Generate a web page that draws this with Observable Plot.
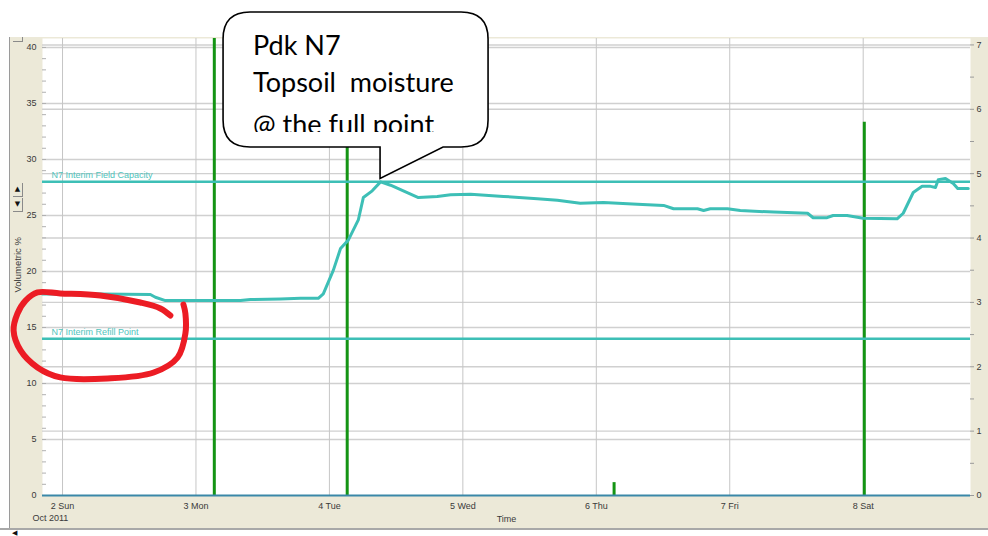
<!DOCTYPE html>
<html><head><meta charset="utf-8">
<script src="https://cdn.jsdelivr.net/npm/d3@7"></script>
<script src="https://cdn.jsdelivr.net/npm/@observablehq/plot@0.6"></script>
<style>
html,body{margin:0;padding:0;background:#fff;}
#wrap{position:relative;width:988px;height:536px;overflow:hidden;background:#fff;}
#panel{position:absolute;left:10px;top:37px;width:978px;height:491px;background:#ECE9D8;}
#lborder{position:absolute;left:9px;top:37px;width:1px;height:492px;background:#9a9a9a;}
#bborder{position:absolute;left:0;top:528px;width:988px;height:2px;background:#a8a8a8;}
#chart{position:absolute;left:0;top:0;}
.btn{position:absolute;left:13px;width:9px;height:13px;border-right:1px solid #8a8a8a;border-bottom:1px solid #8a8a8a;font:7px "DejaVu Sans",sans-serif;line-height:13px;text-align:center;color:#111;}
#topbtn{position:absolute;left:13px;top:37px;width:9px;height:4px;border-right:1px solid #8a8a8a;border-bottom:1px solid #8a8a8a;}
#scroll{position:absolute;left:12px;top:529px;font:7px "DejaVu Sans",sans-serif;color:#111;}
</style></head>
<body>
<div id="wrap">
  <div id="panel"></div>
  <div id="lborder"></div>
  <div id="bborder"></div>
  <div id="topbtn"></div>
  <div class="btn" style="top:183px">▲</div>
  <div class="btn" style="top:198px">▼</div>
  <div id="scroll">◀</div>
  <div id="chart"></div>
</div>
<script>
// ---------- data ----------
const dayDates = ["2011-10-02","2011-10-03","2011-10-04","2011-10-05","2011-10-06","2011-10-07","2011-10-08"];
const dayLabels = ["2 Sun","3 Mon","4 Tue","5 Wed","6 Thu","7 Fri","8 Sat"];
const monthLabel = "Oct 2011";
const xLabel = "Time";
const yLabel = "Volumetric %";
const leftTicks = [0,5,10,15,20,25,30,35,40];
const rightTicks = [0,1,2,3,4,5,6,7];
const yMax = 40.8;          // left axis top of frame
const rightMax = 7.1;       // right axis top of frame
const xStartHours = -3.6;   // hours relative to 2 Oct 00:00
const xEndHours = 163.3;
const yLabelAt = 20.6;      // left-axis value where the axis title is centred

// soil moisture (volumetric %), hours since 2 Oct 2011 00:00
const moistHours = [-3.6,6.8,15.8,16.7,18.5,24.8,32.0,33.8,39.2,42.8,46.0,46.9,48.7,50.0,51.4,53.2,54.1,55.7,57.2,59.0,61.3,64.0,67.4,69.8,73.4,79.3,85.4,89.0,93.1,97.3,103.4,108.1,109.9,114.2,115.3,116.5,119.6,121.9,127.9,134.0,135.0,137.5,138.6,141.1,144.0,150.1,151.2,153.0,154.6,156.1,157.0,157.5,158.8,160.2,161.0,162.9];
const moisture   = [18.0,18.0,17.95,17.7,17.4,17.4,17.4,17.5,17.55,17.6,17.6,18.0,20.1,22.05,22.8,24.6,26.6,27.2,28.0,27.7,27.2,26.6,26.7,26.85,26.9,26.7,26.5,26.35,26.1,26.15,26.0,25.9,25.6,25.6,25.45,25.6,25.6,25.45,25.3,25.2,24.8,24.8,25.0,25.0,24.75,24.7,25.2,27.05,27.6,27.6,27.5,28.2,28.3,27.85,27.4,27.4];

// rainfall / irrigation events (right axis)
const rainHours = [27.3,51.2,99.2,144.2];
const rainMm    = [8,8,0.2,5.8];

const fieldCapacity = 28;
const refillPoint = 14;
const fcLabel = "N7 Interim Field Capacity";
const rpLabel = "N7 Interim Refill Point";

// hand-drawn red ring (data coordinates)
const ringHours  = [19.4,17.6,14.0,6.8,-0.4,-4.5,-6.65,-8.1,-8.8,-7.55,-4.5,-0.4,8.1,16.4,20.7,22.1,22.1,21.75];
const ringValues = [16.06,16.7,17.23,17.85,18.04,18.13,17.4,16.25,14.73,12.95,11.43,10.54,10.45,10.98,12.32,14.46,16.25,17.05];

const calloutLines = ["Pdk N7","Topsoil  moisture","@ the full point"];
const calloutHours = 57.2;

// ---------- helpers ----------
const t0 = Date.UTC(2011,9,2);
const toDate = h => new Date(t0 + h*3600e3);
const ratio = yMax / rightMax;
const labelByTime = new Map(dayDates.map((d,i)=>[+new Date(d), dayLabels[i]]));
const minorLeft = d3.range(0, 41, 1);
const minorRight = d3.range(0, 7.01, 0.5).map(r => r*ratio);
const W = 988, H = 536, mL = 42, mR = 18, mT = 38, mB = 41;
const frameW = W - mL - mR;

const moist = moistHours.map((h,i)=>({t:toDate(h), v:moisture[i]}));
const rain = rainHours.map((h,i)=>({t:toDate(h), v:rainMm[i]*ratio}));
const ring = ringHours.map((h,i)=>({t:toDate(h), v:ringValues[i]}));

const teal = "#3dbfb6";

const plot = Plot.plot({
  width: W, height: H,
  marginLeft: mL, marginRight: mR, marginTop: mT, marginBottom: mB,
  style: {background:"transparent", fontFamily:"'Liberation Sans', Arial, sans-serif", fontSize:"9px", color:"#3a3a3a", overflow:"visible"},
  x: {type:"utc", domain:[toDate(xStartHours), toDate(xEndHours)], axis:null},
  y: {domain:[0, yMax], axis:null},
  marks: [
    Plot.frame({fill:"#fff", stroke:null}),
    Plot.ruleY(leftTicks.slice(1), {stroke:"#d0d0d0", strokeWidth:1.4}),
    Plot.ruleY(rightTicks.slice(1).map(r=>r*ratio), {stroke:"#d0d0d0", strokeWidth:1.4}),
    Plot.ruleX(dayDates.map(d=>new Date(d)), {stroke:"#c6c6c6", strokeWidth:1}),
    Plot.tickY(minorLeft, {y:d=>d, insetRight: frameW-4, stroke:"#b0b0b0", strokeWidth:1}),
    Plot.tickY(minorRight, {y:d=>d, insetLeft: frameW, insetRight:-4, stroke:"#9a9a9a", strokeWidth:1}),
    Plot.ruleX(rain, {x:"t", y1:0, y2:"v", stroke:"#149414", strokeWidth:3, clip:true}),
    Plot.ruleY([fieldCapacity, refillPoint], {stroke:teal, strokeWidth:2.5}),
    Plot.text([fcLabel, rpLabel], {x: toDate(xStartHours), y:(d,i)=> i===0 ? fieldCapacity : refillPoint, text:d=>d, dx:9, dy:-7, textAnchor:"start", fill:"#4fc4bd", fontSize:9}),
    Plot.line(moist, {x:"t", y:"v", stroke:teal, strokeWidth:3}),
    Plot.ruleY([0], {stroke:"#3a88a8", strokeWidth:2}),
    Plot.axisY(leftTicks, {anchor:"left", tickSize:0, tickPadding:6, label:null}),
    Plot.axisY(rightTicks.map(r=>r*ratio), {anchor:"right", tickSize:0, tickPadding:6, label:null, tickFormat:d=>String(Math.round(d/ratio))}),
    Plot.axisX(dayDates.map(d=>new Date(d)), {anchor:"bottom", tickSize:0, tickPadding:7, label:null, tickFormat:d=>labelByTime.get(+d)}),
    Plot.text([monthLabel], {x: new Date(dayDates[0]), frameAnchor:"bottom", dx:-30, dy:25, textAnchor:"start", fill:"#3a3a3a"}),
    Plot.text([xLabel], {frameAnchor:"bottom", dy:26, fill:"#3a3a3a"}),
    Plot.text([yLabel], {frameAnchor:"left", y: yLabelAt, dx:-25, rotate:-90, textAnchor:"middle", fill:"#3a3a3a", fontSize:9.5}),
    Plot.line(ring, {x:"t", y:"v", stroke:"#ec1c24", strokeWidth:6, curve:"catmull-rom", strokeLinecap:"round", strokeLinejoin:"round"})
  ]
});
document.getElementById("chart").appendChild(plot);

// ---------- callout bubble ----------
const sx = plot.scale("x"), sy = plot.scale("y");
const tipX = sx.apply(toDate(calloutHours));
const tipY = sy.apply(fieldCapacity) - 3;
const L = tipX - 157, R = tipX + 108, T = 12, B = 147, r = 27;
const svg = d3.select(plot);
const g = svg.append("g");
const path = `M${L+r},${T} H${R-r} Q${R},${T} ${R},${T+r} V${B-r} Q${R},${B} ${R-r},${B} H${tipX+63} L${tipX},${tipY} L${tipX},${B} H${L+r} Q${L},${B} ${L},${B-r} V${T+r} Q${L},${T} ${L+r},${T} Z`;
g.append("path").attr("d", path).attr("fill","#fff").attr("stroke","#000").attr("stroke-width",1.6);
svg.append("clipPath").attr("id","bubclip").append("rect").attr("x",L).attr("y",T).attr("width",R-L).attr("height",132-T);
const tg = g.append("g").attr("clip-path","url(#bubclip)")
  .attr("font-family","Lato, 'Open Sans', sans-serif").attr("font-size",27).attr("fill","#000")
  .attr("text-anchor","start");
const baselines = [55, 92, 134];
calloutLines.forEach((s,i)=>{
  tg.append("text").attr("x", tipX-127).attr("y", baselines[i]).attr("text-anchor","start").style("white-space","pre").text(s);
});
</script>
</body></html>
